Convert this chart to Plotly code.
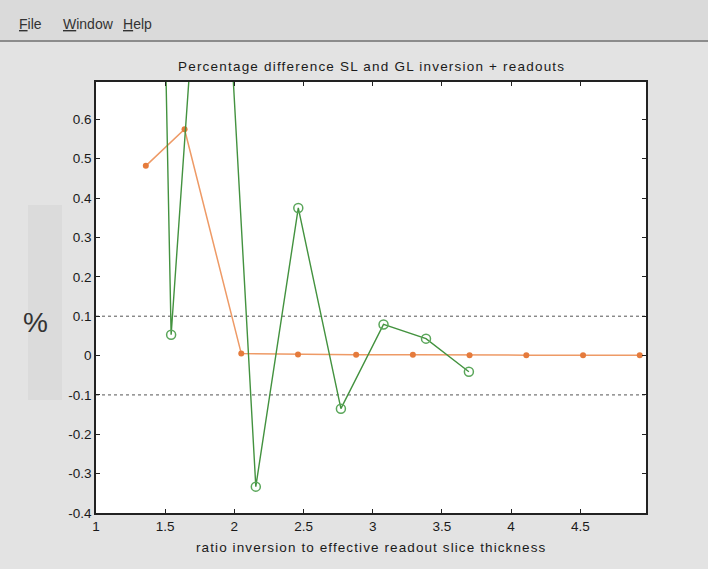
import plotly.graph_objects as go

# ---- data ----
green_x = [1.235, 1.543, 1.850, 2.155, 2.462, 2.770, 3.078, 3.385, 3.695]
green_y = [5.5, 0.053, 1.60, -0.333, 0.375, -0.135, 0.079, 0.043, -0.041]

orange_x = [1.36, 1.64, 2.05, 2.46, 2.88, 3.29, 3.70, 4.11, 4.52, 4.93]
orange_y = [0.482, 0.575, 0.005, 0.003, 0.002, 0.002, 0.001, 0.001, 0.001, 0.001]

ref_x = [1.0, 4.975]
ref_hi = [0.1, 0.1]
ref_lo = [-0.1, -0.1]

x_ticks = [1, 1.5, 2, 2.5, 3, 3.5, 4, 4.5]
x_ticklabels = ["1", "1.5", "2", "2.5", "3", "3.5", "4", "4.5"]
y_ticks = [-0.4, -0.3, -0.2, -0.1, 0, 0.1, 0.2, 0.3, 0.4, 0.5, 0.6]
y_ticklabels = ["-0.4", "-0.3", "-0.2", "-0.1", "0", "0.1", "0.2", "0.3", "0.4", "0.5", "0.6"]

title_text = "Percentage difference SL and GL inversion + readouts"
xlabel_text = "ratio inversion to effective readout slice thickness"
ylabel_text = "%"
menu_items = ["<u>F</u>ile", "<u>W</u>indow", "<u>H</u>elp"]
menu_px = [17, 61, 121]

W, H = 708, 569
L, R, T, B = 96, 646, 82, 513
FONT = "Liberation Sans, Arial, Helvetica, sans-serif"


def xp(px):
    return (px - L) / (R - L)


def yp(py):
    return (B - py) / (B - T)


def spaced(txt, ls):
    return '<span style="letter-spacing:%spx">%s</span>' % (ls, txt)


fig = go.Figure()

fig.add_trace(go.Scatter(x=ref_x, y=ref_hi, mode="lines",
                         line=dict(color="#555555", width=1, dash="dot"),
                         hoverinfo="skip", showlegend=False))
fig.add_trace(go.Scatter(x=ref_x, y=ref_lo, mode="lines",
                         line=dict(color="#555555", width=1, dash="dot"),
                         hoverinfo="skip", showlegend=False))

fig.add_trace(go.Scatter(x=orange_x, y=orange_y, mode="lines+markers",
                         line=dict(color="#ee9a66", width=1.5),
                         marker=dict(color="#e57b3c", size=6),
                         showlegend=False, cliponaxis=True))

fig.add_trace(go.Scatter(x=green_x, y=green_y, mode="lines+markers",
                         line=dict(color="#43923f", width=1.4),
                         marker=dict(symbol="circle-open", color="#5aa65a", size=9,
                                     line=dict(width=1.5)),
                         showlegend=False, cliponaxis=True))

shapes = [
    # menu bar
    dict(type="rect", xref="paper", yref="paper", x0=xp(0), x1=xp(W), y0=yp(41), y1=yp(0),
         fillcolor="#dadada", line=dict(width=0), layer="below"),
    dict(type="line", xref="paper", yref="paper", x0=xp(0), x1=xp(W), y0=yp(41), y1=yp(41),
         line=dict(color="#8c8c8c", width=2)),
    # faint panel behind the % label
    dict(type="rect", xref="paper", yref="paper", x0=xp(28), x1=xp(62), y0=yp(400), y1=yp(205),
         fillcolor="#dbdbdb", line=dict(width=0), layer="below"),
]

annotations = []
for txt, px in zip(menu_items, menu_px):
    annotations.append(dict(text=txt, xref="paper", yref="paper", x=xp(px), y=yp(24),
                            xanchor="left", yanchor="middle", showarrow=False,
                            font=dict(family=FONT, size=14, color="#333333")))
annotations.append(dict(text=spaced(title_text, 1.2), xref="paper", yref="paper", x=0.5, y=yp(66),
                        xanchor="center", yanchor="middle", showarrow=False,
                        font=dict(family=FONT, size=13.5, color="#1a1a1a")))
annotations.append(dict(text=spaced(xlabel_text, 1.1), xref="paper", yref="paper", x=0.5, y=yp(547),
                        xanchor="center", yanchor="middle", showarrow=False,
                        font=dict(family=FONT, size=13.5, color="#1a1a1a")))
annotations.append(dict(text=ylabel_text, xref="paper", yref="paper", x=xp(35), y=yp(322),
                        xanchor="center", yanchor="middle", showarrow=False,
                        font=dict(family=FONT, size=28, color="#333333")))

fig.update_layout(
    width=W, height=H,
    margin=dict(l=L, r=W - R, t=T, b=H - B, pad=0),
    paper_bgcolor="#e3e3e3",
    plot_bgcolor="#ffffff",
    font=dict(family=FONT, size=13.5, color="#1a1a1a"),
    shapes=shapes,
    annotations=annotations,
    xaxis=dict(range=[1, 4.975], tickvals=x_ticks, ticktext=x_ticklabels,
               ticks="inside", ticklen=4, tickwidth=1, tickcolor="#222",
               showline=True, linecolor="#222", linewidth=1.5, mirror="ticks",
               showgrid=False, zeroline=False, fixedrange=True),
    yaxis=dict(range=[-0.4, 0.695], tickvals=y_ticks, ticktext=y_ticklabels,
               ticks="inside", ticklen=4, tickwidth=1, tickcolor="#222",
               showline=True, linecolor="#222", linewidth=1.5, mirror="ticks",
               showgrid=False, zeroline=False, fixedrange=True),
)

fig.write_html("out.html")
